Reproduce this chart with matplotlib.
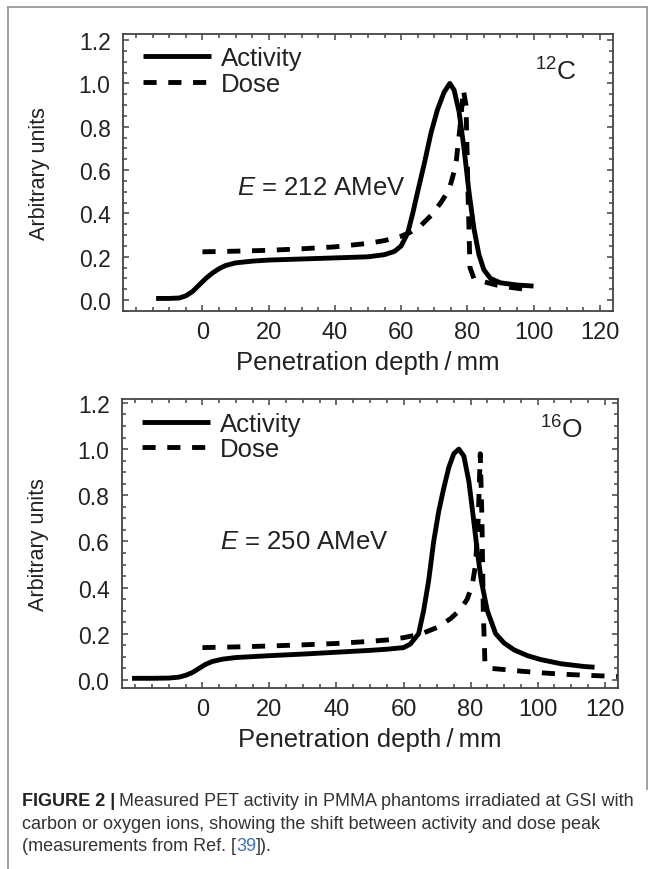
import matplotlib
matplotlib.use("Agg")
from matplotlib import pyplot as plt
from matplotlib.ticker import FixedLocator, MultipleLocator
from matplotlib.lines import Line2D

plt.rcParams['font.family'] = ['Liberation Sans', 'DejaVu Sans']
plt.rcParams['mathtext.fontset'] = 'custom'
plt.rcParams['mathtext.rm'] = 'Liberation Sans'
plt.rcParams['mathtext.it'] = 'Liberation Sans:italic'

# 12C, E = 212 AMeV
c_act_x = [-14, -10, -7, -5, -3, -1, 1, 3, 5, 7, 10, 15, 20, 30, 40, 50, 55,
           58, 60, 62, 63.5, 65, 67, 69, 71, 73, 74.7, 76, 77.5, 79, 80.5,
           82, 83.5, 85, 87, 90, 95, 100]
c_act_y = [0.008, 0.008, 0.01, 0.02, 0.04, 0.07, 0.1, 0.125, 0.145, 0.16,
           0.172, 0.18, 0.185, 0.19, 0.195, 0.2, 0.21, 0.225, 0.25, 0.31,
           0.4, 0.5, 0.63, 0.77, 0.88, 0.96, 1.0, 0.97, 0.87, 0.7, 0.5,
           0.33, 0.21, 0.14, 0.1, 0.08, 0.07, 0.065]
c_dose_x = [0, 10, 20, 30, 40, 50, 55, 60, 63, 66, 69, 72, 74.5, 76.5, 77.8,
            78.8, 79.6, 80.2, 80.8, 82, 85, 90, 95, 99]
c_dose_y = [0.223, 0.226, 0.23, 0.237, 0.246, 0.262, 0.275, 0.295, 0.315,
            0.345, 0.39, 0.45, 0.51, 0.62, 0.8, 0.97, 0.9, 0.5, 0.15, 0.1,
            0.085, 0.065, 0.055, 0.048]

# 16O, E = 250 AMeV
o_act_x = [-21, -15, -10, -7, -5, -3, -1, 1, 3, 6, 10, 20, 30, 40, 50, 55,
           60, 62, 64.5, 66, 67.5, 69, 70.5, 72, 73.5, 75, 76.5, 78, 79.5,
           80.7, 82, 83.2, 85, 87.5, 90, 93, 97, 101, 107, 114, 117]
o_act_y = [0.007, 0.007, 0.008, 0.012, 0.02, 0.032, 0.05, 0.068, 0.08,
           0.09, 0.097, 0.105, 0.112, 0.12, 0.128, 0.133, 0.14, 0.155, 0.2,
           0.3, 0.43, 0.6, 0.73, 0.83, 0.92, 0.98, 1.0, 0.97, 0.86, 0.72,
           0.56, 0.43, 0.3, 0.2, 0.16, 0.13, 0.105, 0.088, 0.07, 0.058,
           0.055]
o_dose_x = [0, 10, 20, 30, 40, 50, 55, 60, 65, 70, 74, 77, 79, 80.5, 81.5,
            82.3, 82.9, 83.4, 83.8, 84.3, 86, 90, 95, 100, 105, 110, 115,
            120, 124]
o_dose_y = [0.14, 0.143, 0.147, 0.152, 0.158, 0.167, 0.173, 0.183, 0.198,
            0.227, 0.265, 0.305, 0.35, 0.41, 0.5, 0.7, 0.98, 0.7, 0.3, 0.07,
            0.05, 0.045, 0.038, 0.032, 0.027, 0.023, 0.02, 0.017, 0.015]

x_ticks = [0, 20, 40, 60, 80, 100, 120]
y_ticks = [0.0, 0.2, 0.4, 0.6, 0.8, 1.0, 1.2]

W, H = 655, 870
fig = plt.figure(figsize=(W / 100, H / 100), dpi=100)


def px_axes(left, top, right, bottom):
    return fig.add_axes([left / W, 1 - bottom / H, (right - left) / W,
                         (bottom - top) / H])


def panel(ax, act_x, act_y, dose_x, dose_y, ylim, energy, e_pos, ion, ion_pos):
    ax.plot(act_x, act_y, color='black', lw=3.5, solid_capstyle='butt',
            label='Activity')
    ax.plot(dose_x, dose_y, color='black', lw=3.5, ls=(0, (2.7, 2.4)),
            dash_capstyle='butt', label='Dose')
    ax.set_xlim(-24, 124)
    ax.set_ylim(*ylim)
    ax.xaxis.set_major_locator(FixedLocator(x_ticks))
    ax.xaxis.set_minor_locator(MultipleLocator(5))
    ax.yaxis.set_major_locator(FixedLocator(y_ticks))
    ax.yaxis.set_minor_locator(MultipleLocator(0.05))
    ax.set_yticklabels(['%.1f' % v for v in y_ticks])
    for s in ax.spines.values():
        s.set_color('#444444')
        s.set_linewidth(1.3)
    ax.tick_params(which='both', direction='in', top=True, right=True,
                   color='#444444', width=1.1, labelcolor='#222222')
    ax.tick_params(which='major', length=4.5)
    ax.tick_params(which='minor', length=2.6)
    ax.tick_params(axis='x', pad=7, labelsize=17)
    ax.tick_params(axis='y', pad=9, labelsize=16.5)
    ax.set_xlabel('Penetration depth\u2009/\u2009mm', fontsize=18.5,
                  color='#222222', labelpad=5)
    ax.set_ylabel('Arbitrary units', fontsize=15.5, color='#222222')
    ax.yaxis.set_label_coords(-0.148, 0.5)
    ax.legend(loc='upper left', bbox_to_anchor=(0.04, 0.955), frameon=False,
              fontsize=18.5, handlelength=2.65, handletextpad=0.4,
              labelspacing=0.05, borderpad=0, borderaxespad=0,
              labelcolor='#222222')
    ax.text(e_pos[0], e_pos[1], r'$E$ = ' + energy, fontsize=18.5,
            color='#222222', va='center', ha='left')
    ax.text(ion_pos[0], ion_pos[1], ion, fontsize=19, color='#222222',
            va='center', ha='center')


ax1 = px_axes(123, 35, 613, 312)
panel(ax1, c_act_x, c_act_y, c_dose_x, c_dose_y, (-0.05, 1.228),
      '212 AMeV', (10.3, 0.52), r'$^{12}$C', (106.8, 1.055))

ax2 = px_axes(122, 400, 618, 689)
panel(ax2, o_act_x, o_act_y, o_dose_x, o_dose_y, (-0.035, 1.217),
      '250 AMeV', (5.1, 0.6), r'$^{16}$O', (107, 1.085))

# outer frame of the figure box
frame_kw = dict(color='#9a9a9a', lw=1.3, transform=fig.transFigure)
fig.add_artist(Line2D([8 / W, 8 / W], [0, 1 - 8 / H], **frame_kw))
fig.add_artist(Line2D([8 / W, 647 / W], [1 - 8 / H, 1 - 8 / H], **frame_kw))
fig.add_artist(Line2D([647 / W, 647 / W], [1 - 8 / H, 1 - 790 / H], **frame_kw))

# caption
cap_size = 13
bold = fig.text(22 / W, 1 - 802 / H, 'FIGURE 2 |', fontsize=cap_size,
                fontweight='bold', va='center', color='#222222')
fig.canvas.draw()
bb = bold.get_window_extent(fig.canvas.get_renderer())
fig.text(bb.x1 / W + 4 / W, 1 - 802 / H,
         'Measured PET activity in PMMA phantoms irradiated at GSI with',
         fontsize=cap_size, va='center', color='#333333')
fig.text(22 / W, 1 - 825 / H,
         'carbon or oxygen ions, showing the shift between activity and dose peak',
         fontsize=cap_size, va='center', color='#333333')
t1 = fig.text(22 / W, 1 - 847 / H, '(measurements from Ref. [', fontsize=cap_size,
              va='center', color='#333333')
fig.canvas.draw()
bb = t1.get_window_extent(fig.canvas.get_renderer())
t2 = fig.text(bb.x1 / W, 1 - 847 / H, '39', fontsize=cap_size, va='center',
              color='#3b73b9')
fig.canvas.draw()
bb = t2.get_window_extent(fig.canvas.get_renderer())
fig.text(bb.x1 / W, 1 - 847 / H, ']).', fontsize=cap_size, va='center',
         color='#333333')

fig.savefig('out.png', dpi=100)
